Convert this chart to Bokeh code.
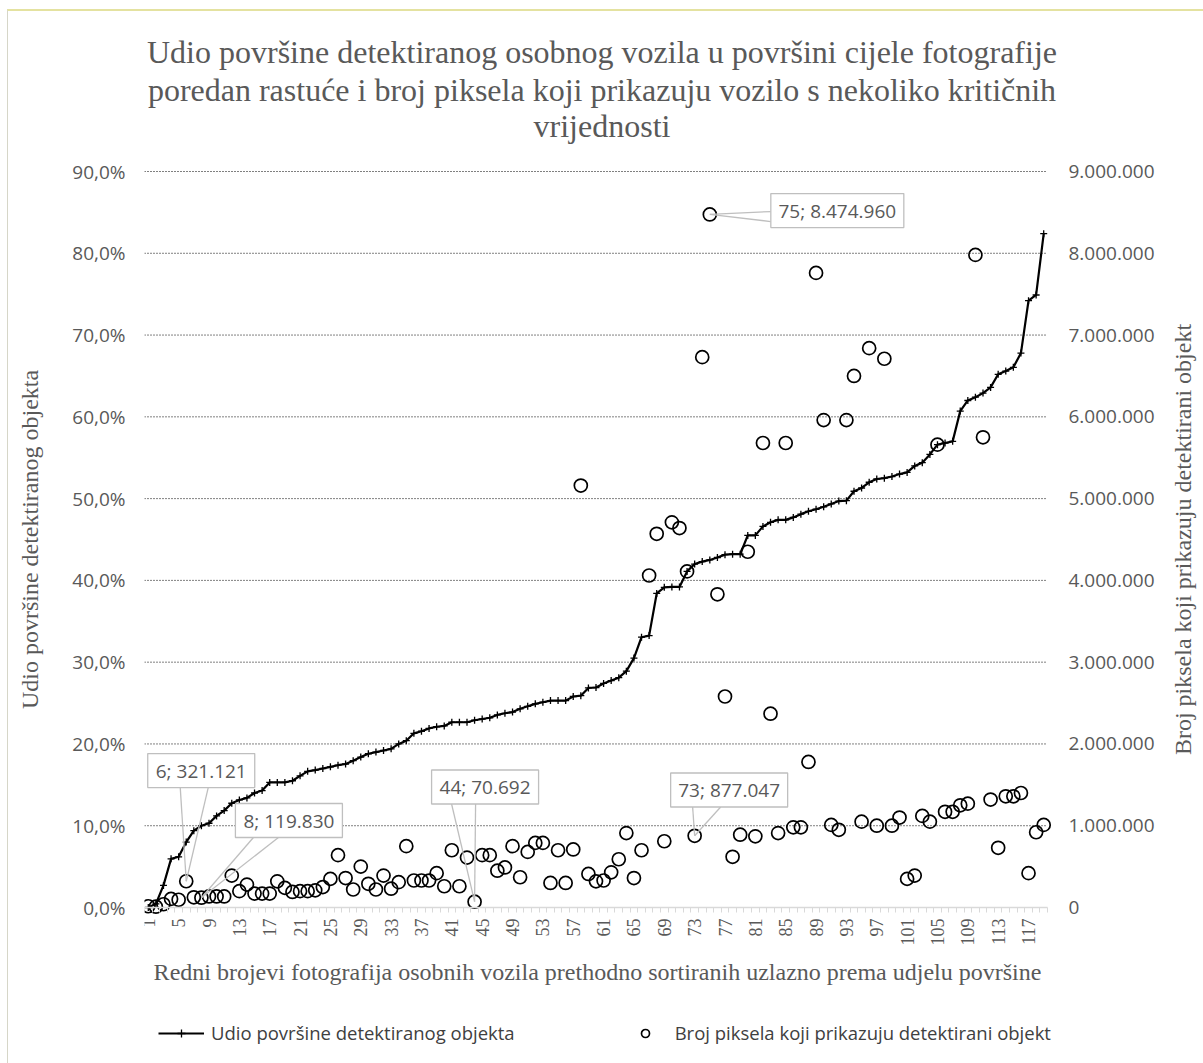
from math import pi
from bokeh.plotting import figure
from bokeh.models import (Range1d, LinearAxis, FixedTicker, Legend, Label,
                          LegendItem, ColumnDataSource)
from bokeh.core.properties import value
from bokeh.embed import file_html
from bokeh.resources import INLINE

# ---------------- data ----------------
image_no = list(range(1, 120))

udio_pct = [
    0.0, 0.45, 2.7, 5.95, 6.2, 8.0, 9.4, 10.0, 10.3, 11.2,
    11.85, 12.75, 13.15, 13.4, 14.0, 14.3, 15.3, 15.3, 15.3, 15.5,
    16.1, 16.65, 16.8, 17.0, 17.2, 17.4, 17.55, 17.95, 18.4, 18.8,
    19.0, 19.2, 19.4, 20.0, 20.4, 21.3, 21.55, 21.9, 22.1, 22.2,
    22.65, 22.65, 22.65, 22.9, 23.05, 23.2, 23.55, 23.75, 23.9, 24.3,
    24.6, 24.9, 25.1, 25.3, 25.3, 25.3, 25.8, 25.9, 26.85, 26.9,
    27.4, 27.75, 28.1, 28.9, 30.5, 33.05, 33.25, 38.4, 39.15, 39.2,
    39.2, 41.1, 42.0, 42.3, 42.5, 42.8, 43.15, 43.2, 43.2, 45.5,
    45.5, 46.6, 47.1, 47.4, 47.4, 47.7, 48.1, 48.45, 48.7, 49.0,
    49.35, 49.7, 49.75, 50.9, 51.3, 52.0, 52.4, 52.5, 52.7, 53.0,
    53.2, 54.0, 54.4, 55.4, 56.6, 56.8, 57.0, 60.7, 62.0, 62.4,
    62.9, 63.6, 65.2, 65.6, 66.05, 67.8, 74.2, 74.9, 82.4]

piksela = [
    15000, 10000, 40000, 105000, 95000, 321121, 125000, 119830, 135000, 135000,
    135000, 390000, 200000, 280000, 170000, 170000, 170000, 320000, 240000, 190000,
    200000, 200000, 210000, 250000, 350000, 640000, 360000, 220000, 500000, 290000,
    220000, 390000, 230000, 310000, 750000, 330000, 330000, 330000, 420000, 260000,
    700000, 260000, 610000, 70692, 640000, 640000, 450000, 490000, 750000, 370000,
    680000, 790000, 790000, 300000, 700000, 300000, 710000, 5160000, 410000, 320000,
    330000, 430000, 590000, 910000, 360000, 700000, 4060000, 4570000, 810000, 4710000,
    4640000, 4110000, 877047, 6730000, 8474960, 3830000, 2580000, 620000, 890000, 4350000,
    870000, 5680000, 2370000, 910000, 5680000, 980000, 980000, 1780000, 7760000, 5960000,
    1010000, 950000, 5960000, 6500000, 1050000, 6840000, 1000000, 6710000, 1000000, 1100000,
    350000, 390000, 1120000, 1050000, 5660000, 1170000, 1170000, 1250000, 1270000, 7980000,
    5750000, 1320000, 730000, 1360000, 1360000, 1400000, 420000, 920000, 1010000]

left_ticks = [0.0, 0.1, 0.2, 0.3, 0.4, 0.5, 0.6, 0.7, 0.8, 0.9]
left_tick_labels = ["0,0%", "10,0%", "20,0%", "30,0%", "40,0%", "50,0%",
                    "60,0%", "70,0%", "80,0%", "90,0%"]
right_ticks = [0, 1000000, 2000000, 3000000, 4000000, 5000000,
               6000000, 7000000, 8000000, 9000000]
right_tick_labels = ["0", "1.000.000", "2.000.000", "3.000.000", "4.000.000",
                     "5.000.000", "6.000.000", "7.000.000", "8.000.000", "9.000.000"]
x_tick_values = list(range(1, 120, 4))

callout_idx = [6, 8, 44, 73, 75]
callout_text = ["6; 321.121", "8; 119.830", "44; 70.692", "73; 877.047", "75; 8.474.960"]

title_lines = [
    "Udio površine detektiranog osobnog vozila u površini cijele fotografije",
    "poredan rastuće i broj piksela koji prikazuju vozilo s nekoliko kritičnih",
    "vrijednosti",
]
y_title_left = "Udio površine detektiranog objekta"
y_title_right = "Broj piksela koji prikazuju detektirani objekt"
x_title = ("Redni brojevi fotografija osobnih vozila prethodno sortiranih "
           "uzlazno prema udjelu površine")
legend_labels = ["Udio površine detektiranog objekta",
                 "Broj piksela koji prikazuju detektirani objekt"]

# ---------------- layout constants (page pixels) ----------------
CANVAS_X, CANVAS_Y = 8, 11          # canvas origin on the page
PLOT_L, PLOT_T = 144, 171           # data area (0..90 %) on the page
PLOT_W, PLOT_H = 903, 736
FRAME_T, FRAME_B = 15, 1063         # frame spans title .. legend
FRAME_R = 1203
XMIN, XMAX = 0.5, 119.5
YMAX = 0.9
PMAX = 9000000
PXX = PLOT_W / (XMAX - XMIN)
PXY = PLOT_H / PMAX
Y0 = PLOT_T + PLOT_H                # page y of value 0


def xd(px):
    return XMIN + (px - PLOT_L) / PXX


def yd(py):
    return (Y0 - py) / PLOT_H * YMAX


GRAY = "#595959"
SERIF = "Liberation Serif"
SANS = "Open Sans"

p = figure(frame_width=FRAME_R - PLOT_L, frame_height=FRAME_B - FRAME_T,
           x_range=Range1d(XMIN, xd(FRAME_R)), y_range=Range1d(yd(FRAME_B), yd(FRAME_T)),
           output_backend="svg", toolbar_location=None,
           min_border_left=PLOT_L - CANVAS_X, min_border_right=0,
           min_border_top=FRAME_T - CANVAS_Y, min_border_bottom=0,
           background_fill_color="white", border_fill_color="white",
           outline_line_color=None)
p.styles = {"margin-left": "7px", "margin-top": "9px",
            "border-top": "2px solid #e4e2a0", "border-left": "1px solid #d6d6c8"}
p.extra_y_ranges = {"px": Range1d(yd(FRAME_B) / YMAX * PMAX, yd(FRAME_T) / YMAX * PMAX)}

# left axis
ya = p.yaxis[0]
ya.ticker = FixedTicker(ticks=left_ticks)
ya.major_label_overrides = dict(zip(left_ticks, left_tick_labels))
ya.axis_line_color = None
ya.major_tick_line_color = None
ya.minor_tick_line_color = None
ya.major_tick_out = 0
ya.major_label_standoff = 19
ya.major_label_text_font = SANS
ya.major_label_text_font_size = "19px"
ya.major_label_text_color = GRAY
ya.axis_label = y_title_left
ya.axis_label_standoff = 26
ya.axis_label_text_font = SERIF
ya.axis_label_text_font_size = "24px"
ya.axis_label_text_font_style = "normal"
ya.axis_label_text_color = GRAY

# right axis, drawn at the right edge of the data area
ra = LinearAxis(y_range_name="px", ticker=FixedTicker(ticks=right_ticks),
                fixed_location=XMAX)
ra.major_label_overrides = dict(zip(right_ticks, right_tick_labels))
ra.axis_line_color = None
ra.major_tick_line_color = None
ra.minor_tick_line_color = None
ra.major_tick_out = 0
ra.major_label_standoff = 21
ra.major_label_text_font = SANS
ra.major_label_text_font_size = "19px"
ra.major_label_text_color = GRAY
p.add_layout(ra, "right")

# x axis, drawn at value 0
xa = p.xaxis[0]
xa.fixed_location = 0
xa.bounds = (XMIN, XMAX)
xa.ticker = FixedTicker(ticks=x_tick_values,
                        minor_ticks=[i + 0.5 for i in range(0, 120)])
xa.major_tick_line_color = None
xa.major_tick_out = 0
xa.major_tick_in = 0
xa.minor_tick_out = 5
xa.minor_tick_in = 0
xa.minor_tick_line_color = "#d9d9d9"
xa.axis_line_color = "#d9d9d9"
xa.axis_line_width = 1.3
xa.major_label_orientation = pi / 2
xa.major_label_standoff = 6
xa.major_label_text_font = SERIF
xa.major_label_text_font_size = "18px"
xa.major_label_text_color = GRAY

# horizontal dotted gridlines limited to the data area
p.xgrid.visible = False
p.ygrid.visible = False
grid_y = left_ticks[1:]
grid_r = p.segment(x0=[XMIN] * len(grid_y), y0=grid_y, x1=[XMAX] * len(grid_y),
                   y1=grid_y, line_color="black", line_dash="1 2", line_width=1)
grid_r.level = "underlay"

# series
src = ColumnDataSource(dict(x=image_no, udio=[v / 100 for v in udio_pct], px=piksela))
line_r = p.line("x", "udio", source=src, line_color="black", line_width=2.2)
cross_r = p.scatter("x", "udio", source=src, marker="cross", size=7,
                    line_color="black", line_width=1.3)
circ_r = p.scatter("x", "px", source=src, y_range_name="px", marker="circle",
                   size=13, fill_color=None, line_color="black", line_width=1.7)

# callouts: offsets (screen px, y down) of box centre and leader bases from the point
box_off = {6: (15.0, -110.7), 8: (87.5, -77.2), 44: (10.5, -114.7),
           73: (34.5, -45.8), 75: (127.5, -3.9)}
box_w = {6: 107, 8: 107, 44: 107, 73: 117, 75: 133}
lead_off = {6: [(-6, -93.7), (22, -93.7)], 8: [(52, -60.2), (77, -60.2)],
            44: [(-23, -97.7), (1, -97.7)], 73: [(-2, -28.8), (26, -28.8)],
            75: [(61, -2.9), (61, 7.1)]}

bx, by, bw, tx = [], [], [], []
sx0, sy0, sx1, sy1 = [], [], [], []
for idx, txt in zip(callout_idx, callout_text):
    val = piksela[idx - 1]
    ox, oy = box_off[idx]
    bx.append(idx + ox / PXX)
    by.append(val - oy / PXY)
    bw.append(box_w[idx])
    tx.append(txt)
    for lx, ly in lead_off[idx]:
        sx0.append(idx + lx / PXX)
        sy0.append(val - ly / PXY)
        sx1.append(idx)
        sy1.append(val)

p.segment(sx0, sy0, sx1, sy1, y_range_name="px", line_color="#bfbfbf", line_width=1.3)
p.rect(bx, by, width=bw, height=34, width_units="screen", height_units="screen",
       y_range_name="px", fill_color="white", line_color="#bfbfbf", line_width=1.3)
p.text(bx, by, text=tx, y_range_name="px", text_font=value(SANS),
       text_font_size="19px", text_color=GRAY, text_align="center",
       text_baseline="middle")

# chart title (three lines)
for txt, base in zip(title_lines, [51, 89, 125]):
    p.add_layout(Label(x=xd(601.5), y=yd(base), text=txt,
                       text_font=SERIF, text_font_size="32px",
                       text_color=GRAY, text_align="center",
                       text_baseline="alphabetic"))

# x-axis title
p.add_layout(Label(x=xd(597), y=yd(971), text=x_title,
                   text_font=SERIF, text_font_size="24px", text_color=GRAY,
                   text_align="center", text_baseline="middle"))

# secondary-axis title (reads bottom-to-top)
p.add_layout(Label(x=xd(1182), y=yd(539), text=y_title_right, angle=pi / 2,
                   text_font=SERIF, text_font_size="24px", text_color=GRAY,
                   text_align="center", text_baseline="middle"))

legend = Legend(items=[LegendItem(label=legend_labels[0], renderers=[line_r, cross_r]),
                       LegendItem(label=legend_labels[1], renderers=[circ_r])],
                location=(158 - PLOT_L, FRAME_B - 1045), orientation="horizontal",
                glyph_width=46, glyph_height=20, label_height=20,
                label_standoff=7, spacing=107,
                padding=0, margin=0, border_line_color=None,
                background_fill_alpha=0, label_text_font=SANS,
                label_text_font_size="18.5px", label_text_color="#404040")
p.add_layout(legend)

open("out.html", "w").write(file_html(p, INLINE))
